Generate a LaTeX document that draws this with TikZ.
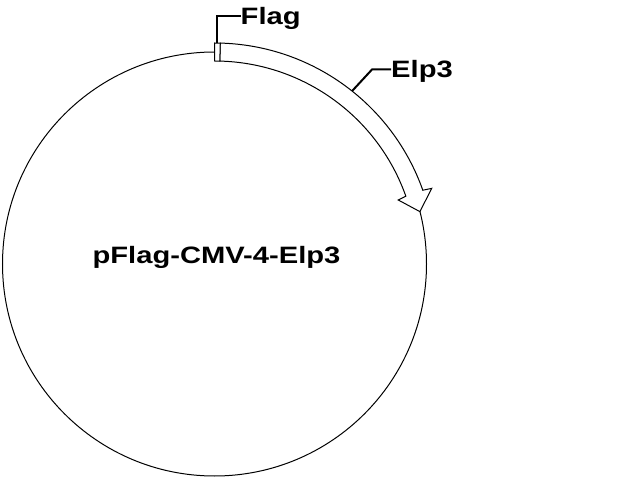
\documentclass[tikz,border=0pt]{standalone}
\usepackage{fontspec}
\setmainfont{Liberation Sans}
\usepackage{graphicx}
\usetikzlibrary{positioning}
\newcommand{\widetext}[1]{\scalebox{1.23}[1]{#1}}

\begin{document}
\begin{tikzpicture}[x=1pt,y=1pt,
  lbl/.style={font=\bfseries\fontsize{23.7}{24}\selectfont, inner sep=0pt, text height=17pt, text depth=0pt},
  feat/.style={draw, fill=white, line width=1pt, line join=miter},
  lead/.style={line width=2pt}]
\useasboundingbox[fill=white] (0,0) rectangle (640,480);
\coordinate (c) at (214.5,216);
\draw[line width=1pt] (c) circle[radius=212];
\begin{scope}[shift={(c)}]
  % Elp3 arrow
  \draw[feat] (88.5:221) arc[start angle=88.5, end angle=19.5, radius=221]
    -- (19.2:230) -- (14.3:212) -- (19.2:194.6) -- (19.5:203)
    arc[start angle=19.5, end angle=88.5, radius=203] -- cycle;
  % Flag box
  \draw[feat] (90:221) arc[start angle=90, end angle=88.5, radius=221]
    -- (88.5:203) arc[start angle=88.5, end angle=90, radius=203] -- cycle;
  \coordinate (flagtick) at (89.25:221);
  \coordinate (elptick) at (51.5:221);
\end{scope}
\node[lbl, anchor=base] (plasmid) at (216.5,216.7) {\widetext{pFlag-CMV-4-Elp3}};
\node[lbl, anchor=west] (flaglbl) at (240.5,463.5) {\widetext{Flag}};
\node[lbl, anchor=west] (elplbl) at (391,410.5) {\widetext{Elp3}};
\coordinate[left=19pt of elplbl.west] (elpknee);
\draw[lead] (flagtick) |- (flaglbl.west);
\draw[lead] (elptick) -- (elpknee) -- (elplbl.west);
\end{tikzpicture}
\end{document}
